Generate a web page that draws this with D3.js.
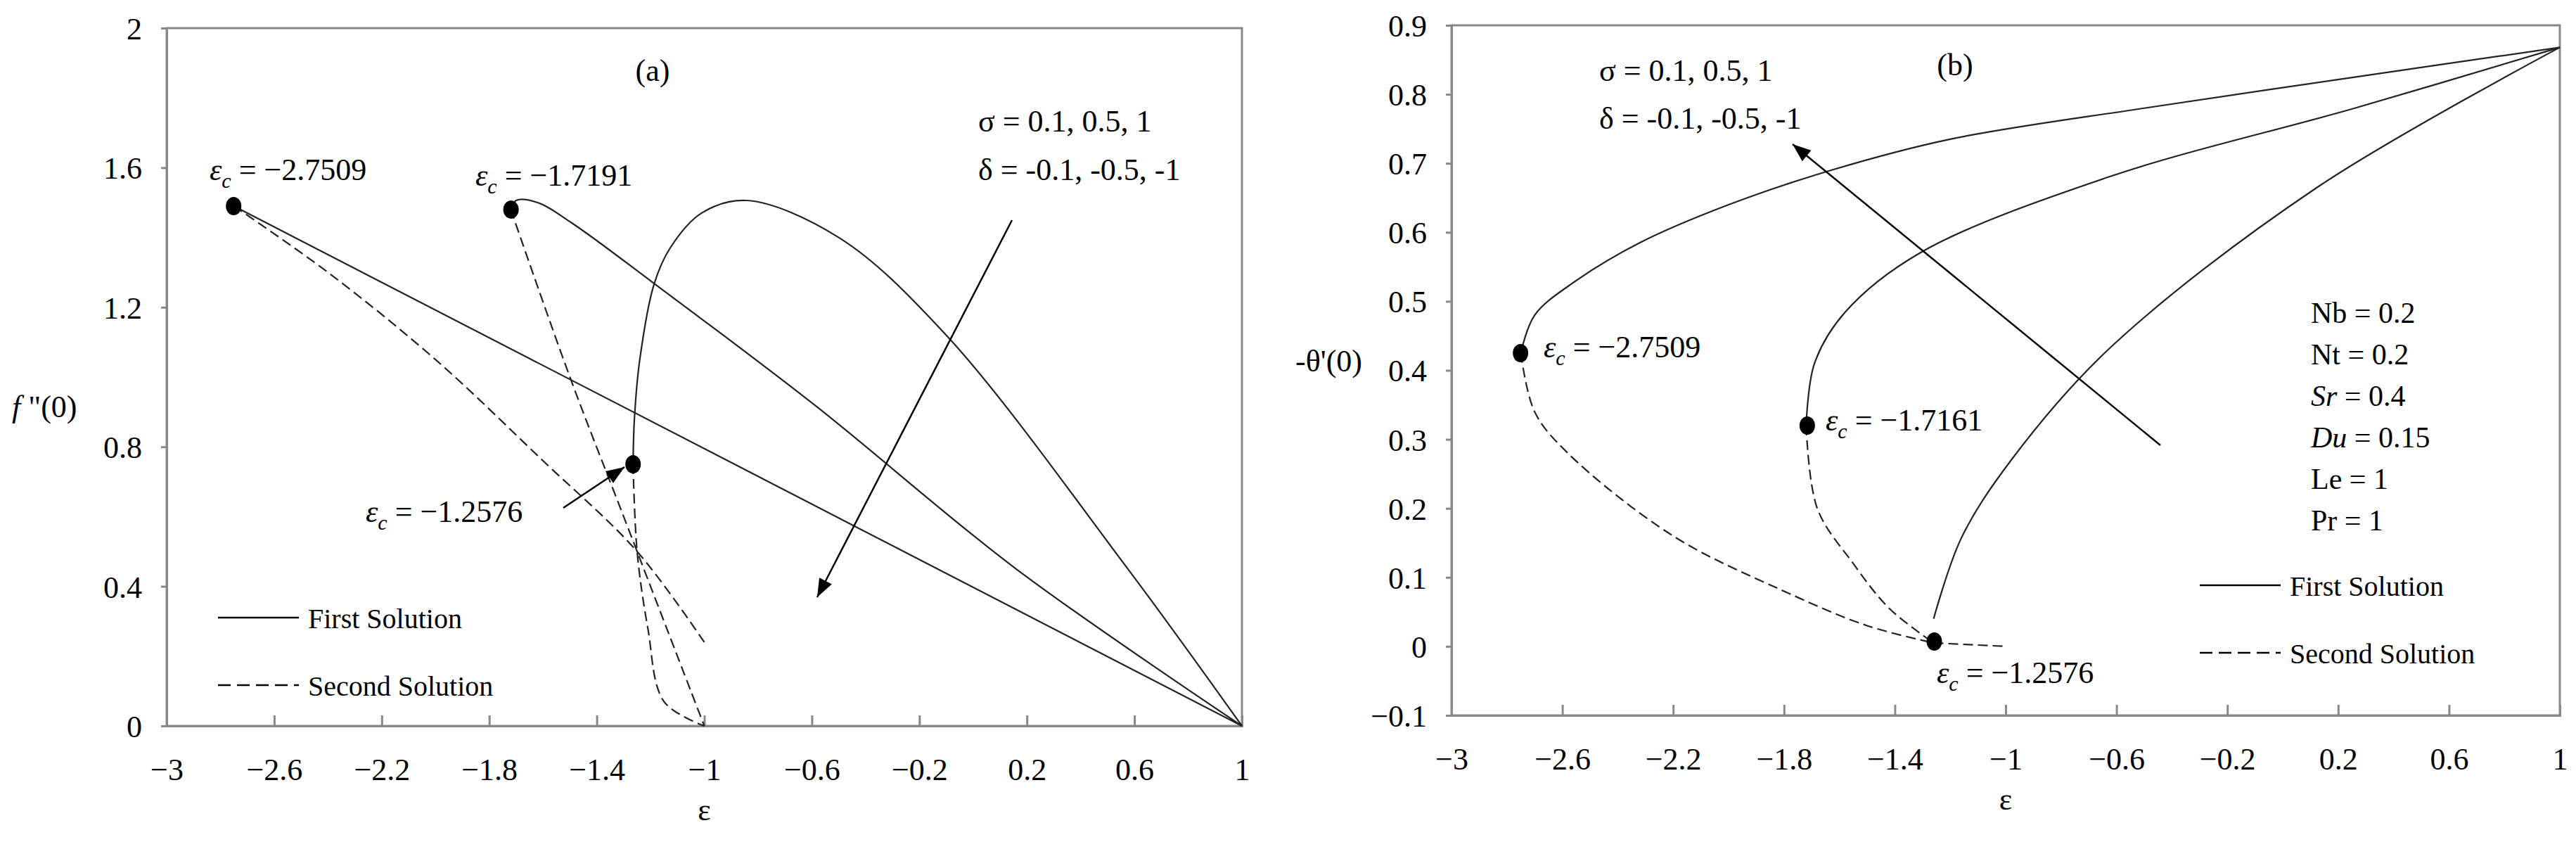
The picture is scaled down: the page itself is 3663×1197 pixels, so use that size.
<!DOCTYPE html>
<html><head><meta charset="utf-8">
<script src="https://cdn.jsdelivr.net/npm/d3@7"></script>
<style>
body{margin:0;background:#fff}
text{font-family:"Liberation Serif",serif;fill:#000}
</style></head>
<body><svg width="3663" height="1197"></svg>
<script>
// panel (a): f''(0) vs eps
const aFirst = [
  [[1,0],[-2.75,1.49]],
  [[1,0],[0.16,0.45],[-0.59,0.92],[-1.19,1.27],[-1.49,1.44],[-1.62,1.50],[-1.70,1.506],[-1.72,1.48]],
  [[1,0],[0.566,0.46],[-0.1,1.12],[-0.5,1.40],[-0.842,1.506],[-1.01,1.47],[-1.127,1.37],[-1.187,1.266],[-1.24,1.05],[-1.26,0.88],[-1.265,0.75]]
];
const aSecond = [
  [[-2.75,1.49],[-2.4,1.3],[-2.0,1.05],[-1.6,0.76],[-1.25,0.5],[-1.0,0.24]],
  [[-1.72,1.48],[-1.5,1.0],[-1.3,0.6],[-1.15,0.3],[-1.05,0.1],[-1,0]],
  [[-1.265,0.75],[-1.25,0.5],[-1.21,0.28],[-1.15,0.07],[-1,0]]
];
const aCrit = [[-2.7509,1.49],[-1.7191,1.48],[-1.265,0.75]];
// panel (b): -theta'(0) vs eps
const bFirst = [
  [[1,0.868],[0.26,0.825],[-0.5,0.78],[-1.2,0.735],[-1.63,0.69],[-2.0,0.64],[-2.32,0.585],[-2.55,0.53],[-2.7,0.48],[-2.75,0.425]],
  [[1,0.868],[0.26,0.78],[-0.63,0.68],[-1.31,0.57],[-1.58,0.484],[-1.69,0.41],[-1.72,0.32]],
  [[1,0.868],[0.12,0.664],[-0.63,0.43],[-0.98,0.27],[-1.16,0.157],[-1.26,0.04]]
];
const bSecond = [
  [[-2.75,0.425],[-2.7,0.34],[-2.58,0.28],[-2.2,0.16],[-1.8,0.08],[-1.5,0.03],[-1.26,0.005]],
  [[-1.72,0.32],[-1.68,0.2],[-1.55,0.12],[-1.42,0.055],[-1.26,0.005]],
  [[-1.26,0.005],[-1,0]]
];
const bCrit = [[-2.7509,0.425],[-1.7161,0.32],[-1.2576,0.007]];
const xTicks = [-3,-2.6,-2.2,-1.8,-1.4,-1,-0.6,-0.2,0.2,0.6,1];
const aYTicks = [0,0.4,0.8,1.2,1.6,2];
const bYTicks = [-0.1,0,0.1,0.2,0.3,0.4,0.5,0.6,0.7,0.8,0.9];

const svg = d3.select('svg');
const FS = '44px';

function panel(o) {
  const x = d3.scaleLinear().domain([-3,1]).range([o.x0,o.x1]);
  const y = d3.scaleLinear().domain(o.ydom).range([o.y0,o.y1]);
  const g = svg.append('g');
  g.append('rect').attr('x',o.x0).attr('y',o.y1).attr('width',o.x1-o.x0).attr('height',o.y0-o.y1)
    .attr('fill','none').attr('stroke','#888').attr('stroke-width',3);
  const xa = g.append('g').attr('transform',`translate(0,${o.y0})`)
    .call(d3.axisBottom(x).tickValues(xTicks).tickFormat(d3.format('')).tickSize(-15));
  const ya = g.append('g').attr('transform',`translate(${o.x0},0)`)
    .call(d3.axisLeft(y).tickValues(o.yticks).tickFormat(d3.format('')).tickSize(8).tickPadding(27));
  [xa,ya].forEach(a=>{
    a.selectAll('text').style('font-size',FS).style('font-family','Liberation Serif');
    a.selectAll('line,path').attr('stroke','#888').attr('stroke-width',3);
  });
  xa.selectAll('text').attr('y',77).attr('dy',0);
  ya.selectAll('text').attr('dy','0.35em');
  g.append('text').attr('x',x(-1)).attr('y',o.y0+134).attr('text-anchor','middle').style('font-size',FS).text('ε');
  const lineC = d3.line().x(d=>x(d[0])).y(d=>y(d[1])).curve(d3.curveCatmullRom);
  o.first.forEach(s=>g.append('path').attr('d',lineC(s)).attr('fill','none').attr('stroke','#222').attr('stroke-width',2.2));
  o.second.forEach(s=>g.append('path').attr('d',lineC(s)).attr('fill','none').attr('stroke','#222').attr('stroke-width',2.2).attr('stroke-dasharray','14,7'));
  g.selectAll('ellipse.c').data(o.crit).join('ellipse').attr('cx',d=>x(d[0])).attr('cy',d=>y(d[1])).attr('rx',11).attr('ry',13).attr('fill','#000');
  return {g,x,y};
}

function epsLabel(g,px,py,val){
  const t = g.append('text').attr('x',px).attr('y',py).style('font-size',FS);
  t.append('tspan').style('font-style','italic').text('ε');
  t.append('tspan').attr('dy',11).style('font-size','30px').style('font-style','italic').text('c');
  t.append('tspan').attr('dy',-11).text(' = −'+val);
}
function legend(g,px,py){
  g.append('line').attr('x1',px).attr('x2',px+115).attr('y1',py).attr('y2',py).attr('stroke','#000').attr('stroke-width',2.5);
  g.append('text').attr('x',px+128).attr('y',py+15).style('font-size','40px').text('First Solution');
  g.append('line').attr('x1',px).attr('x2',px+115).attr('y1',py+96).attr('y2',py+96).attr('stroke','#000').attr('stroke-width',2.5).attr('stroke-dasharray','18,9');
  g.append('text').attr('x',px+128).attr('y',py+111).style('font-size','40px').text('Second Solution');
}
function arrow(g,x1,y1,x2,y2){
  g.append('line').attr('x1',x1).attr('y1',y1).attr('x2',x2).attr('y2',y2).attr('stroke','#000').attr('stroke-width',2.5);
  const a = Math.atan2(y2-y1,x2-x1), L=26, W=10;
  const p = [[x2,y2],[x2-L*Math.cos(a)+W*Math.sin(a),y2-L*Math.sin(a)-W*Math.cos(a)],[x2-L*Math.cos(a)-W*Math.sin(a),y2-L*Math.sin(a)+W*Math.cos(a)]];
  g.append('polygon').attr('points',p.map(q=>q.join(',')).join(' ')).attr('fill','#000');
}

const A = panel({x0:237,x1:1766,y0:1032,y1:40,ydom:[0,2],yticks:aYTicks,first:aFirst,second:aSecond,crit:aCrit});
A.g.append('text').attr('x',928).attr('y',115).attr('text-anchor','middle').style('font-size',FS).text('(a)');
epsLabel(A.g,298,256,'2.7509');
epsLabel(A.g,676,264,'1.7191');
epsLabel(A.g,520,742,'1.2576');
arrow(A.g,801,722,888,664);
A.g.append('text').attr('x',1391).attr('y',187).style('font-size',FS).text('σ = 0.1, 0.5, 1');
A.g.append('text').attr('x',1391).attr('y',256).style('font-size',FS).text('δ = -0.1, -0.5, -1');
arrow(A.g,1439,313,1162,849);
legend(A.g,310,878);
const fy = A.g.append('text').attr('x',17).attr('y',593).style('font-size',FS);
fy.append('tspan').style('font-style','italic').text('f');
fy.append('tspan').text(' "(0)');

const B = panel({x0:2064,x1:3640,y0:1017,y1:36,ydom:[-0.1,0.9],yticks:bYTicks,first:bFirst,second:bSecond,crit:bCrit});
B.g.append('text').attr('x',2780).attr('y',107).attr('text-anchor','middle').style('font-size',FS).text('(b)');
epsLabel(B.g,2195,508,'2.7509');
epsLabel(B.g,2596,612,'1.7161');
epsLabel(B.g,2754,971,'1.2576');
B.g.append('text').attr('x',2274).attr('y',115).style('font-size',FS).text('σ = 0.1, 0.5, 1');
B.g.append('text').attr('x',2274).attr('y',183).style('font-size',FS).text('δ = -0.1, -0.5, -1');
arrow(B.g,3072,633,2549,205);
B.g.append('text').attr('x',1842).attr('y',528).style('font-size',FS).text('-θ\'(0)');
const params = [['Nb',' = 0.2',false],['Nt',' = 0.2',false],['Sr',' = 0.4',true],['Du',' = 0.15',true],['Le',' = 1',false],['Pr',' = 1',false]];
params.forEach((p,i)=>{
  const t = B.g.append('text').attr('x',3286).attr('y',459+i*59).style('font-size','42px');
  t.append('tspan').style('font-style',p[2]?'italic':'normal').text(p[0]);
  t.append('tspan').text(p[1]);
});
legend(B.g,3128,832);
</script></body></html>
